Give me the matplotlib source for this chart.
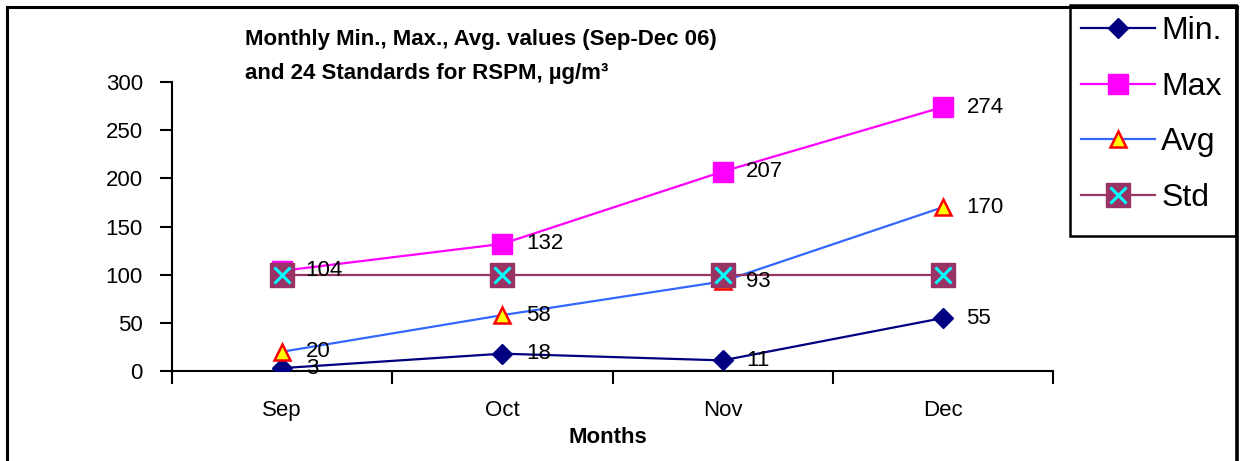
import matplotlib
matplotlib.use("Agg")
import matplotlib.pyplot as plt
from matplotlib.lines import Line2D
from matplotlib.patches import Rectangle
from matplotlib.legend_handler import HandlerTuple

# data
months = ["Sep", "Oct", "Nov", "Dec"]
min_vals = [3, 18, 11, 55]
max_vals = [104, 132, 207, 274]
avg_vals = [20, 58, 93, 170]
std_vals = [100, 100, 100, 100]
yticks = [0, 50, 100, 150, 200, 250, 300]

W, H = 1244, 461

plt.rcParams["font.family"] = ["Liberation Sans", "DejaVu Sans"]

fig = plt.figure(figsize=(W / 100, H / 100), dpi=100)
ax = fig.add_axes([172 / W, 90 / H, 881 / W, 289 / H])

x = list(range(len(months)))

(l_min,) = ax.plot(x, min_vals, color="#000080", lw=1.6, marker="D", ms=10,
                   mfc="#000080", mec="#000080", label="Min.", zorder=3)
(l_max,) = ax.plot(x, max_vals, color="#FF00FF", lw=1.6, marker="s", ms=14,
                   mfc="#FF00FF", mec="#FF00FF", label="Max", zorder=4)
(l_avg,) = ax.plot(x, avg_vals, color="#3366FF", lw=1.6, marker="^", ms=12,
                   mfc="#FFFF00", mec="#FF0000", mew=1.8, label="Avg", zorder=5)
(l_std,) = ax.plot(x, std_vals, color="#993366", lw=1.6, marker="s", ms=17,
                   mfc="#993366", mec="#993366", zorder=6)
(l_stdx,) = ax.plot(x, std_vals, ls="none", marker="x", ms=11, mec="#00FFFF",
                    mew=2.2, zorder=7)

# value labels (std has none)
for series in (min_vals, max_vals, avg_vals):
    for xi, v in zip(x, series):
        ax.annotate(str(v), (xi, v), xytext=(17, 0), textcoords="offset points",
                    ha="left", va="center", fontsize=16, zorder=8)

ax.set_xlim(-0.5, len(months) - 0.5)
ax.set_ylim(0, 300)
ax.set_yticks(yticks)
ax.tick_params(axis="y", direction="out", length=9, width=1.5, labelsize=16, pad=12)

# category boundaries get the tick marks, labels sit in the middle
ax.set_xticks([i - 0.5 for i in range(len(months) + 1)])
ax.set_xticklabels([])
ax.set_xticks(x, minor=True)
ax.set_xticklabels(months, minor=True, fontsize=16)
ax.tick_params(axis="x", which="major", direction="out", length=9, width=1.5)
ax.tick_params(axis="x", which="minor", length=0, pad=21)

for side in ("top", "right"):
    ax.spines[side].set_visible(False)
for side in ("left", "bottom"):
    ax.spines[side].set_linewidth(1.5)

fig.text(608 / W, 1 - 437 / H, "Months", ha="center", va="center",
         fontsize=16, fontweight="bold")

fig.text(245 / W, 1 - 40 / H, "Monthly Min., Max., Avg. values (Sep-Dec 06)",
         ha="left", va="center", fontsize=16, fontweight="bold")
fig.text(245 / W, 1 - 73 / H, "and 24 Standards for RSPM, µg/m³",
         ha="left", va="center", fontsize=16, fontweight="bold")

leg = ax.legend([l_min, l_max, l_avg, (l_std, l_stdx)],
                ["Min.", "Max", "Avg", "Std"],
                handler_map={tuple: HandlerTuple(ndivide=1)},
                loc="upper left", bbox_to_anchor=(1070 / W, 1 - 5 / H),
                bbox_transform=fig.transFigure, fontsize=23, frameon=False,
                borderaxespad=0, borderpad=0.35,
                handlelength=2.3, handletextpad=0.2, labelspacing=0.8)

# legend box drawn by hand so its height matches the reference
fig.add_artist(Rectangle((1070 / W, 1 - 236 / H), 166 / W, 231 / H,
                         transform=fig.transFigure, fill=False,
                         edgecolor="black", lw=1.8))

# outer chart border (bottom edge falls outside the image)
fig.add_artist(Line2D([7 / W, 7 / W], [-0.05, 1 - 7 / H], transform=fig.transFigure,
                      color="black", lw=2.2))
fig.add_artist(Line2D([7 / W, 1237 / W], [1 - 7 / H, 1 - 7 / H],
                      transform=fig.transFigure, color="black", lw=2.2))
fig.add_artist(Line2D([1237 / W, 1237 / W], [-0.05, 1 - 7 / H],
                      transform=fig.transFigure, color="black", lw=2.6))

fig.savefig("out.png", dpi=100)
